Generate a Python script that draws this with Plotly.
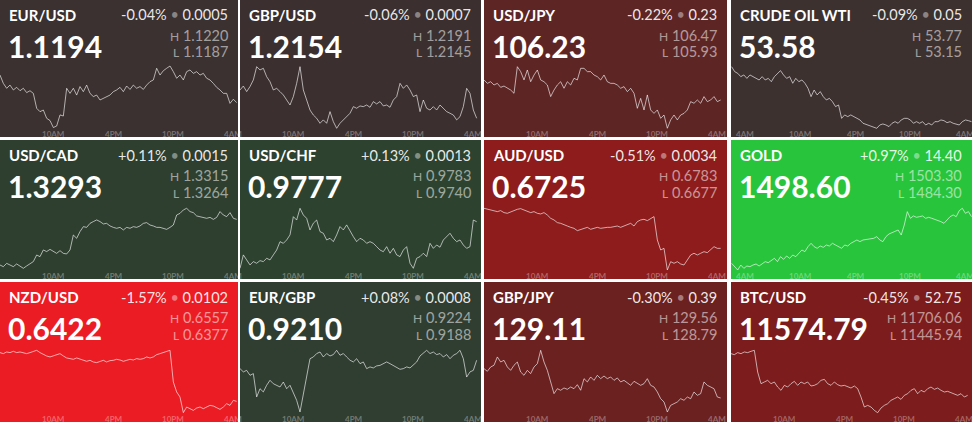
import pandas as pd
import plotly.graph_objects as go

# ---------------- data ----------------
symbols = ["EUR/USD", "GBP/USD", "USD/JPY", "CRUDE OIL WTI",
           "USD/CAD", "USD/CHF", "AUD/USD", "GOLD",
           "NZD/USD", "EUR/GBP", "GBP/JPY", "BTC/USD"]
last_price = [1.1194, 1.2154, 106.23, 53.58, 1.3293, 0.9777, 0.6725, 1498.60,
              0.6422, 0.9210, 129.11, 11574.79]
change_pct = [-0.04, -0.06, -0.22, -0.09, 0.11, 0.13, -0.51, 0.97, -1.57, 0.08, -0.30, -0.45]
change_abs = [0.0005, 0.0007, 0.23, 0.05, 0.0015, 0.0013, 0.0034, 14.40, 0.0102, 0.0008, 0.39, 52.75]
day_high = [1.1220, 1.2191, 106.47, 53.77, 1.3315, 0.9783, 0.6783, 1503.30,
            0.6557, 0.9224, 129.56, 11706.06]
day_low = [1.1187, 1.2145, 105.93, 53.15, 1.3264, 0.9740, 0.6677, 1484.30,
           0.6377, 0.9188, 128.79, 11445.94]
decimals = [4, 4, 2, 2, 4, 4, 4, 2, 4, 4, 2, 2]
is_commodity = [False, False, False, True, False, False, False, True, False, False, False, False]

eurusd = [1.12152, 1.12108, 1.12082, 1.12099, 1.12073, 1.12087, 1.12069, 1.12082, 1.12059, 1.12069,
          1.12055, 1.11976, 1.11958, 1.11967, 1.11923, 1.11911, 1.11874, 1.11882, 1.11941, 1.11935,
          1.12082, 1.12055, 1.12082, 1.12046, 1.12091, 1.12064, 1.12099, 1.12055, 1.12038, 1.12046,
          1.12020, 1.12029, 1.12038, 1.12046, 1.12064, 1.12073, 1.12087, 1.12064, 1.12094, 1.12076,
          1.12099, 1.12082, 1.12091, 1.12076, 1.12099, 1.12117, 1.12126, 1.12188, 1.12152, 1.12175,
          1.12188, 1.12200, 1.12170, 1.12135, 1.12152, 1.12126, 1.12170, 1.12179, 1.12161, 1.12170,
          1.12152, 1.12161, 1.12135, 1.12126, 1.12108, 1.12087, 1.12073, 1.12055, 1.12055, 1.12002,
          1.12024, 1.12006]
gbpusd = [1.21733, 1.21762, 1.21721, 1.21758, 1.21807, 1.21905, 1.21881, 1.21893, 1.21831, 1.21794,
          1.21733, 1.21745, 1.21721, 1.21696, 1.21659, 1.21622, 1.21684, 1.21782, 1.21905, 1.21733,
          1.21659, 1.21585, 1.21548, 1.21524, 1.21487, 1.21512, 1.21487, 1.21573, 1.21499, 1.21450,
          1.21487, 1.21512, 1.21536, 1.21561, 1.21610, 1.21598, 1.21615, 1.21610, 1.21622, 1.21605,
          1.21647, 1.21630, 1.21647, 1.21615, 1.21622, 1.21605, 1.21659, 1.21684, 1.21782, 1.21745,
          1.21770, 1.21733, 1.21684, 1.21696, 1.21573, 1.21659, 1.21598, 1.21585, 1.21610, 1.21585,
          1.21622, 1.21598, 1.21573, 1.21561, 1.21548, 1.21512, 1.21536, 1.21610, 1.21745, 1.21708,
          1.21585, 1.21524]
usdjpy = [106.351, 106.322, 106.336, 106.308, 106.322, 106.288, 106.299, 106.280, 106.265, 106.237,
          106.464, 106.422, 106.351, 106.436, 106.336, 106.393, 106.436, 106.351, 106.336, 106.308,
          106.209, 106.265, 106.308, 106.336, 106.280, 106.336, 106.308, 106.365, 106.351, 106.450,
          106.450, 106.422, 106.422, 106.393, 106.379, 106.351, 106.393, 106.336, 106.322, 106.322,
          106.308, 106.280, 106.294, 106.251, 106.280, 106.237, 106.109, 106.194, 106.095, 106.223,
          106.095, 106.066, 106.095, 106.024, 106.052, 105.939, 106.010, 106.052, 106.010, 106.052,
          106.066, 106.095, 106.166, 106.152, 106.180, 106.152, 106.209, 106.166, 106.180, 106.209,
          106.166, 106.180]
crude = [53.763, 53.714, 53.697, 53.664, 53.681, 53.647, 53.681, 53.664, 53.647, 53.631,
         53.664, 53.631, 53.647, 53.614, 53.664, 53.697, 53.724, 53.681, 53.647, 53.664,
         53.598, 53.647, 53.614, 53.631, 53.598, 53.548, 53.465, 53.531, 53.482, 53.515,
         53.465, 53.432, 53.448, 53.415, 53.366, 53.382, 53.249, 53.283, 53.266, 53.283,
         53.266, 53.249, 53.233, 53.200,
         53.167, 53.150, 53.183, 53.193, 53.183, 53.167, 53.200, 53.216, 53.200, 53.233,
         53.249, 53.249, 53.233, 53.200, 53.216, 53.200, 53.216, 53.183, 53.200, 53.183,
         53.216, 53.216, 53.233, 53.226, 53.206, 53.216, 53.200, 53.193, 53.183, 53.216,
         53.233, 53.226, 53.216]
usdcad = [1.32668, 1.32654, 1.32682, 1.32668, 1.32654, 1.32677, 1.32660, 1.32640, 1.32660, 1.32682,
          1.32697, 1.32753, 1.32739, 1.32796, 1.32782, 1.32801, 1.32782, 1.32767, 1.32790, 1.32767,
          1.32762, 1.32796, 1.32923, 1.32895, 1.32952, 1.32994, 1.32988, 1.33022, 1.33037, 1.33051,
          1.33037, 1.33017, 1.33022, 1.33000, 1.32988, 1.32980, 1.32988, 1.32966, 1.32988, 1.32980,
          1.32994, 1.32988, 1.33000, 1.33022, 1.33028, 1.33008, 1.33000, 1.32988, 1.32988, 1.32980,
          1.32971, 1.32988, 1.33008, 1.33093, 1.33107, 1.33136, 1.33150, 1.33122, 1.33113, 1.33085,
          1.33079, 1.33073, 1.33065, 1.33073, 1.33056, 1.33073, 1.33122, 1.33093, 1.33079, 1.33113,
          1.33065, 1.33056]
usdchf = [0.97400, 0.97496, 0.97460, 0.97424, 0.97448, 0.97436, 0.97455, 0.97448, 0.97472, 0.97460,
          0.97496, 0.97531, 0.97591, 0.97579, 0.97603, 0.97639, 0.97770, 0.97746, 0.97830, 0.97782,
          0.97758, 0.97675, 0.97723, 0.97746, 0.97663, 0.97651, 0.97603, 0.97615, 0.97591, 0.97639,
          0.97699, 0.97675, 0.97711, 0.97663, 0.97627, 0.97591, 0.97615, 0.97603, 0.97579, 0.97591,
          0.97579, 0.97555, 0.97531, 0.97519, 0.97555, 0.97508, 0.97543, 0.97496, 0.97484, 0.97531,
          0.97555, 0.97436, 0.97400, 0.97472, 0.97484, 0.97508, 0.97484, 0.97579, 0.97543, 0.97567,
          0.97551, 0.97603, 0.97627, 0.97651, 0.97615, 0.97591, 0.97603, 0.97567, 0.97543, 0.97555,
          0.97746, 0.97734]
audusd = [0.67830, 0.67813, 0.67801, 0.67790, 0.67773, 0.67790, 0.67756, 0.67744, 0.67773, 0.67790,
          0.67813, 0.67824, 0.67801, 0.67773, 0.67756, 0.67773, 0.67744, 0.67733, 0.67756, 0.67715,
          0.67658, 0.67630, 0.67584, 0.67572, 0.67544, 0.67526, 0.67503, 0.67486, 0.67446, 0.67469,
          0.67486, 0.67503, 0.67469, 0.67486, 0.67503, 0.67486, 0.67498, 0.67503, 0.67503, 0.67515,
          0.67526, 0.67503, 0.67526, 0.67544, 0.67572, 0.67526, 0.67601, 0.67630, 0.67641, 0.67618,
          0.67652, 0.67687, 0.67286, 0.67114, 0.67142, 0.66770, 0.66913, 0.66885, 0.66913, 0.66873,
          0.66856, 0.66942, 0.67028, 0.67057, 0.67028, 0.67057, 0.67085, 0.67068, 0.67114, 0.67171,
          0.67142, 0.67142]
gold = [1486.35, 1485.33, 1484.30, 1485.84, 1484.81, 1485.53, 1485.33, 1485.84, 1486.15, 1485.53,
        1486.35, 1486.87, 1486.56, 1487.38, 1487.89, 1486.87, 1488.41, 1487.59, 1488.61, 1487.89,
        1488.92, 1488.41, 1489.44, 1490.46, 1489.95, 1491.49, 1492.52, 1491.49, 1490.98, 1491.69,
        1491.28, 1492.00, 1491.69, 1492.52, 1492.00, 1491.49, 1490.98, 1492.00, 1491.69, 1492.52,
        1493.03, 1493.54, 1493.03, 1493.54,
        1494.06, 1494.57, 1493.54, 1493.03, 1494.57, 1495.39, 1495.80, 1496.11, 1496.62, 1495.08,
        1498.16, 1502.27, 1500.22, 1500.94, 1500.53, 1500.73, 1500.94, 1500.22, 1500.53, 1500.22,
        1499.91, 1499.71, 1499.19, 1498.68, 1499.71, 1500.73, 1501.25, 1500.73, 1502.58, 1503.30,
        1501.76, 1502.27, 1500.73]
nzdusd = [0.65503, 0.65474, 0.65522, 0.65503, 0.65541, 0.65503, 0.65522, 0.65503, 0.65474, 0.65503,
          0.65541, 0.65570, 0.65503, 0.65445, 0.65406, 0.65378, 0.65406, 0.65445, 0.65474, 0.65406,
          0.65349, 0.65329, 0.65310, 0.65349, 0.65310, 0.65281, 0.65252, 0.65281, 0.65233, 0.65214,
          0.65252, 0.65281, 0.65233, 0.65272, 0.65281, 0.65310, 0.65291, 0.65252, 0.65281, 0.65310,
          0.65291, 0.65329, 0.65310, 0.65329, 0.65378, 0.65349, 0.65378, 0.65445, 0.65474, 0.65503,
          0.65541, 0.65570, 0.64656, 0.64367, 0.64222, 0.63770, 0.63934, 0.63886, 0.63837, 0.63905,
          0.63934, 0.63886, 0.63934, 0.63982, 0.63963, 0.63905, 0.63866, 0.63934, 0.64030, 0.63982,
          0.64126, 0.64097]
eurgbp = [0.92133, 0.92114, 0.92123, 0.92094, 0.92104, 0.91968, 0.92016, 0.91997, 0.92036, 0.92065,
          0.92045, 0.92036, 0.92026, 0.92055, 0.92016, 0.92036, 0.91987, 0.91948, 0.91880, 0.91977,
          0.92075, 0.92191, 0.92201, 0.92221, 0.92230, 0.92201, 0.92221, 0.92207, 0.92215, 0.92240,
          0.92211, 0.92221, 0.92201, 0.92182, 0.92172, 0.92191, 0.92162, 0.92172, 0.92133, 0.92143,
          0.92137, 0.92149, 0.92152, 0.92162, 0.92172, 0.92162, 0.92152, 0.92143, 0.92129, 0.92133,
          0.92143, 0.92137, 0.92152, 0.92172, 0.92207, 0.92221, 0.92240, 0.92221, 0.92230, 0.92215,
          0.92221, 0.92201, 0.92215, 0.92191, 0.92211, 0.92221, 0.92240, 0.92191, 0.92084, 0.92114,
          0.92123, 0.92182]
gbpjpy = [129.331, 129.298, 129.352, 129.373, 129.477, 129.414, 129.435, 129.352, 129.310, 129.373,
          129.414, 129.289, 129.248, 129.310, 129.269, 129.352, 129.393, 129.560, 129.414, 129.310,
          129.165, 129.019, 129.081, 129.061, 129.090, 129.073, 129.102, 129.081, 129.131, 129.061,
          129.206, 129.165, 129.227, 129.185, 129.248, 129.206, 129.239, 129.206, 129.227, 129.185,
          129.215, 129.165, 129.185, 129.156, 129.123, 129.173, 129.144, 129.123, 129.144, 129.206,
          129.123, 129.102, 129.040, 128.956, 128.915, 128.790, 128.873, 128.894, 128.915, 128.956,
          128.936, 128.977, 128.956, 129.040, 128.998, 129.019, 129.165, 129.123, 129.102, 129.081,
          128.977, 128.965]
btcusd = [11692.1, 11687.9, 11696.3, 11692.1, 11699.1, 11696.3, 11701.8, 11706.1, 11615.6, 11566.9,
          11573.9, 11580.8, 11566.9, 11573.9, 11553.0, 11539.1, 11560.0, 11553.0, 11566.9, 11576.7,
          11560.0, 11573.9, 11566.9, 11573.9, 11557.2, 11560.0, 11566.9, 11580.8, 11585.0, 11566.9,
          11560.0, 11573.9, 11562.7, 11557.2, 11560.0, 11553.0, 11548.8, 11557.2, 11546.1, 11511.3,
          11469.6, 11476.5, 11469.6, 11455.7, 11445.9, 11465.4, 11476.5, 11483.5, 11497.4, 11504.4,
          11511.3, 11501.6, 11518.3, 11525.2, 11539.1, 11546.1, 11525.2, 11539.1, 11532.2, 11546.1,
          11553.0, 11543.3, 11548.8, 11539.1, 11532.2, 11535.0, 11529.4, 11525.2, 11518.3, 11525.2,
          11511.3, 11518.3]

series = [eurusd, gbpusd, usdjpy, crude, usdcad, usdchf, audusd, gold, nzdusd, eurgbp, gbpjpy, btcusd]

fx_start = pd.Timestamp("2019-08-06 04:40")
fx_times = pd.date_range(fx_start, periods=72, freq="20min")
cmd_start = pd.Timestamp("2019-08-06 02:26")
cmd_times = pd.date_range("2019-08-06 02:30", "2019-08-06 16:50", freq="20min").append(
    pd.date_range("2019-08-06 18:00", periods=33, freq="20min"))

fx_ticks = ["2019-08-06 10:00", "2019-08-06 16:00", "2019-08-06 22:00", "2019-08-07 04:00"]
fx_ticktext = ["10AM", "4PM", "10PM", "4AM"]
cmd_ticks = ["2019-08-06 04:00", "2019-08-06 10:00", "2019-08-06 16:00", "2019-08-06 22:00", "2019-08-07 04:00"]
cmd_ticktext = ["4AM", "10AM", "4PM", "10PM", "4AM"]

# ---------------- styling / layout ----------------
W, H = 975, 425
col_x = [(0, 238), (240, 481), (484, 727), (731, 972)]
row_y = [(0, 137), (140, 279), (282, 422)]
line_band = [(66, 128.3), (66, 128.3), (66, 129.3), (66, 128.3),
             (68.3, 128.3), (68.3, 128.3), (68.3, 130), (68.3, 130),
             (68.3, 130.7), (68.3, 130), (68.3, 130), (68.3, 130.7)]
tile_colors = ["#3a3130", "#3b2f2f", "#5e2525", "#3d3130",
               "#2e3f2f", "#2d4330", "#8e1c1c", "#28c43c",
               "#ec1c24", "#303d31", "#6c2121", "#7c1c1c"]
FONT = "Lato"
WHITE = "#ffffff"
SOFT = "rgba(255,255,255,0.55)"
DIM = "rgba(255,255,255,0.32)"

fig = go.Figure()
shapes = []
annotations = []


def px_x(v):
    return v / W


def px_y(v):
    return 1 - v / H


for k in range(12):
    r, c = divmod(k, 4)
    x0, x1 = col_x[c]
    y0, y1 = row_y[r]
    bt, bb = line_band[k]
    lo, hi = day_low[k], day_high[k]
    axn = "" if k == 0 else str(k + 1)

    shapes.append(dict(type="rect", xref="paper", yref="paper", layer="below",
                       x0=px_x(x0), x1=px_x(x1), y0=px_y(y1), y1=px_y(y0),
                       fillcolor=tile_colors[k], line=dict(width=0)))

    times = cmd_times if is_commodity[k] else fx_times
    fig.add_trace(go.Scatter(x=times, y=series[k], mode="lines",
                             line=dict(color="rgba(255,255,255,0.62)", width=1),
                             xaxis="x" + axn, yaxis="y" + axn, hoverinfo="skip",
                             showlegend=False))

    span = bb - bt
    d = (hi - lo) / span
    if is_commodity[k]:
        xr = [cmd_start, cmd_start + pd.Timedelta(hours=(x1 - x0) / 9.53 + 1)]
        rb = [dict(bounds=[17, 18], pattern="hour")]
    else:
        xr = [fx_start, fx_start + pd.Timedelta(hours=(x1 - x0) / 10.0)]
        rb = []
    fig.layout["xaxis" + axn] = dict(domain=[px_x(x0), px_x(x1)], range=xr, type="date",
                                     rangebreaks=rb, visible=False, fixedrange=True,
                                     anchor="y" + axn)
    fig.layout["yaxis" + axn] = dict(domain=[px_y(y0 + bb + 1), px_y(y0 + bt - 1)],
                                     range=[lo - d, hi + d], visible=False, fixedrange=True,
                                     anchor="x" + axn)

    dec = decimals[k]
    sign = "+" if change_pct[k] > 0 else "-"
    annotations.append(dict(xref="paper", yref="paper", x=px_x(x0 + 7), y=px_y(y0 + 15),
                            xanchor="left", yanchor="middle", showarrow=False,
                            text=symbols[k],
                            font=dict(family=FONT, size=15, color=WHITE, weight="bold")))
    annotations.append(dict(xref="paper", yref="paper", x=px_x(x1 - 8), y=px_y(y0 + 15),
                            xanchor="right", yanchor="middle", showarrow=False,
                            text=f"{sign}{abs(change_pct[k]):.2f}% "
                                 f"<span style='color:rgba(255,255,255,0.45)'>•</span> "
                                 f"{change_abs[k]:.{dec}f}",
                            font=dict(family=FONT, size=14.5, color="rgba(255,255,255,0.9)")))
    annotations.append(dict(xref="paper", yref="paper", x=px_x(x0 + 6), y=px_y(y0 + 46),
                            xanchor="left", yanchor="middle", showarrow=False,
                            text=f"{last_price[k]:.{dec}f}",
                            font=dict(family=FONT, size=30, color=WHITE, weight="bold")))
    annotations.append(dict(xref="paper", yref="paper", x=px_x(x1 - 8), y=px_y(y0 + 35.5),
                            xanchor="right", yanchor="middle", showarrow=False,
                            text=f"<span style='font-size:12px'>H</span> {day_high[k]:.{dec}f}",
                            font=dict(family=FONT, size=14.5, color=SOFT)))
    annotations.append(dict(xref="paper", yref="paper", x=px_x(x1 - 8), y=px_y(y0 + 52),
                            xanchor="right", yanchor="middle", showarrow=False,
                            text=f"<span style='font-size:12px'>L</span> {day_low[k]:.{dec}f}",
                            font=dict(family=FONT, size=14.5, color=SOFT)))

    ticks, ttext = (cmd_ticks, cmd_ticktext) if is_commodity[k] else (fx_ticks, fx_ticktext)
    for tv, tt in zip(ticks, ttext):
        annotations.append(dict(xref="x" + axn, yref="paper", x=tv, y=px_y(y1 - 3.5),
                                xanchor="center", yanchor="middle", showarrow=False,
                                text=tt, font=dict(family=FONT, size=8, color=DIM, weight="bold")))

fig.update_layout(width=W, height=H, margin=dict(l=0, r=0, t=0, b=0),
                  paper_bgcolor="#ffffff", plot_bgcolor="rgba(0,0,0,0)",
                  shapes=shapes, annotations=annotations, showlegend=False,
                  hovermode=False)

fig.write_html("out.html", config={"displayModeBar": False},
               post_script="document.body.style.margin='0px';document.body.style.padding='0px';")
